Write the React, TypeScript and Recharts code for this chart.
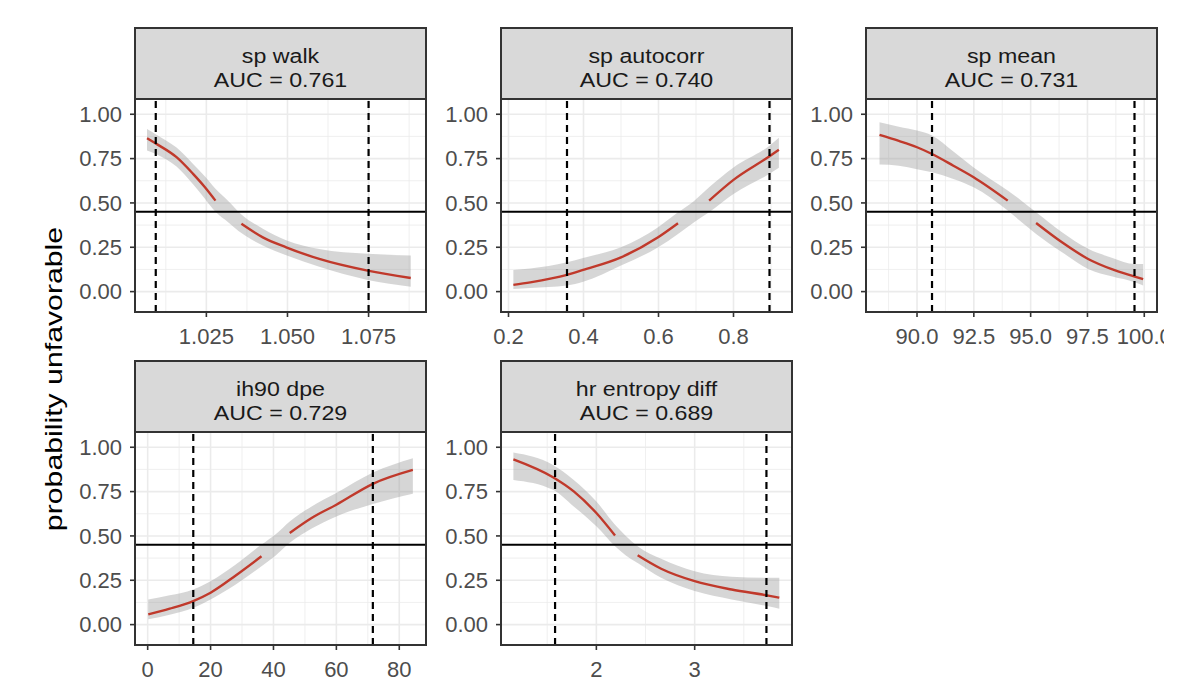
import {
  Area,
  CartesianGrid,
  ComposedChart,
  Line,
  ReferenceLine,
  XAxis,
  YAxis,
} from "recharts";

// shared y scale
const Y_TICKS = [0, 0.25, 0.5, 0.75, 1];
const Y_MINOR = [0.125, 0.375, 0.625, 0.875];
const Y_DOMAIN: [number, number] = [-0.115, 1.086];
const CUTOFF = 0.45;

// sp walk
const walkX = [1.0067, 1.0096, 1.0158, 1.0209, 1.0245, 1.0278, 1.0318, 1.0358, 1.0424, 1.0496, 1.0598, 1.0747, 1.088];
const walkFit = [0.865, 0.833, 0.758, 0.664, 0.59, 0.513, null, 0.382, 0.306, 0.25, 0.184, 0.118, 0.077];
const walkLo = [0.795, 0.775, 0.705, 0.605, 0.525, 0.45, 0.39, 0.33, 0.26, 0.205, 0.14, 0.066, 0.028];
const walkHi = [0.917, 0.885, 0.812, 0.72, 0.65, 0.58, 0.51, 0.435, 0.355, 0.29, 0.24, 0.213, 0.203];
const walkCuts = [1.0094, 1.075];
const walkTicks = [1.025, 1.05, 1.075];
const walkMinor = [1.0125, 1.0375, 1.0625, 1.0875];

// sp autocorr
const acX = [0.213, 0.258, 0.356, 0.399, 0.5, 0.599, 0.652, 0.694, 0.735, 0.8, 0.896, 0.921];
const acFit = [0.038, 0.052, 0.094, 0.122, 0.193, 0.306, 0.385, null, 0.513, 0.63, 0.763, 0.8];
const acLo = [0.015, 0.02, 0.034, 0.055, 0.147, 0.25, 0.325, 0.39, 0.447, 0.55, 0.664, 0.698];
const acHi = [0.122, 0.13, 0.165, 0.19, 0.25, 0.363, 0.447, 0.51, 0.588, 0.7, 0.823, 0.867];
const acCuts = [0.356, 0.896];
const acTicks = [0.2, 0.4, 0.6, 0.8];
const acMinor = [0.3, 0.5, 0.7, 0.9];

// sp mean
const meanX = [88.35, 89.2, 90.0, 90.66, 91.6, 92.49, 93.99, 94.62, 95.24, 96.38, 97.53, 98.6, 99.58, 99.95];
const meanFit = [0.884, 0.85, 0.814, 0.776, 0.71, 0.645, 0.513, null, 0.387, 0.278, 0.184, 0.125, 0.085, 0.07];
const meanLo = [0.716, 0.71, 0.69, 0.673, 0.635, 0.588, 0.457, 0.39, 0.325, 0.222, 0.128, 0.085, 0.053, 0.034];
const meanHi = [0.955, 0.93, 0.908, 0.88, 0.79, 0.7, 0.57, 0.51, 0.447, 0.335, 0.241, 0.19, 0.156, 0.156];
const meanCuts = [90.66, 99.57];
const meanTicks = [90, 92.5, 95, 97.5, 100];
const meanMinor = [88.75, 91.25, 93.75, 96.25, 98.75];

// ih90 dpe
const dpeX = [0.19, 7.0, 14.48, 20.0, 28.0, 36.19, 40.7, 45.17, 52.0, 60.0, 71.62, 84.32];
const dpeFit = [0.058, 0.09, 0.133, 0.18, 0.277, 0.385, null, 0.517, 0.6, 0.676, 0.794, 0.872];
const dpeLo = [0.03, 0.055, 0.095, 0.142, 0.226, 0.329, 0.39, 0.461, 0.54, 0.61, 0.68, 0.738];
const dpeHi = [0.142, 0.165, 0.198, 0.245, 0.339, 0.451, 0.51, 0.582, 0.665, 0.742, 0.857, 0.938];
const dpeCuts = [14.5, 71.6];
const dpeTicks = [0, 20, 40, 60, 80];
const dpeMinor = [10, 30, 50, 70];

// hr entropy diff
const entX = [1.156, 1.559, 1.77, 2.0, 2.19, 2.3, 2.42, 2.659, 3.0, 3.376, 3.735, 3.861];
const entFit = [0.932, 0.831, 0.751, 0.629, 0.502, null, 0.391, 0.315, 0.245, 0.198, 0.165, 0.152];
const entLo = [0.816, 0.76, 0.666, 0.554, 0.442, 0.39, 0.348, 0.264, 0.189, 0.142, 0.105, 0.09];
const entHi = [0.97, 0.9, 0.816, 0.694, 0.563, 0.5, 0.442, 0.371, 0.301, 0.27, 0.264, 0.264];
const entCuts = [1.58, 3.73];
const entTicks = [2, 3];
const entMinor = [1.5, 2.5, 3.5];

const PANELS = [
  { name: "sp walk", auc: "0.761", x: walkX, fit: walkFit, lo: walkLo, hi: walkHi, cuts: walkCuts, ticks: walkTicks, minor: walkMinor, domain: [1.003, 1.0927], digits: 3 },
  { name: "sp autocorr", auc: "0.740", x: acX, fit: acFit, lo: acLo, hi: acHi, cuts: acCuts, ticks: acTicks, minor: acMinor, domain: [0.18, 0.956], digits: 1 },
  { name: "sp mean", auc: "0.731", x: meanX, fit: meanFit, lo: meanLo, hi: meanHi, cuts: meanCuts, ticks: meanTicks, minor: meanMinor, domain: [87.755, 100.56], digits: 1 },
  { name: "ih90 dpe", auc: "0.729", x: dpeX, fit: dpeFit, lo: dpeLo, hi: dpeHi, cuts: dpeCuts, ticks: dpeTicks, minor: dpeMinor, domain: [-4.03, 88.5], digits: 0 },
  { name: "hr entropy diff", auc: "0.689", x: entX, fit: entFit, lo: entLo, hi: entHi, cuts: entCuts, ticks: entTicks, minor: entMinor, domain: [1.03, 3.99], digits: 0 },
];

// layout
const COL_LEFT = [135, 501, 866];
const ROW_TOP = [99, 432];
const PLOT_W = 291;
const PLOT_H = 213;
const STRIP_H = 71;
const AXIS_W = 75;
const AXIS_H = 40;
const FONT = '"Liberation Sans", Arial, Helvetica, sans-serif';
const EDGE = "#333333";

type PanelDef = (typeof PANELS)[number];

function Panel({ p, left, top, padRight }: { p: PanelDef; left: number; top: number; padRight: number }) {
  const rows = p.x.map((x, i) => ({ x, fit: p.fit[i], band: [p.lo[i], p.hi[i]] }));
  return (
    <>
      <div
        style={{
          position: "absolute",
          left: left - 1,
          top: top - STRIP_H - 1,
          width: PLOT_W + 2,
          height: STRIP_H + 2,
          boxSizing: "border-box",
          border: `2px solid ${EDGE}`,
          background: "#D9D9D9",
          color: "#1A1A1A",
          fontSize: 20,
          lineHeight: "24px",
          textAlign: "center",
          paddingTop: 15,
        }}
      >
        <div style={{ transform: "scaleX(1.16)" }}>{p.name}</div>
        <div style={{ transform: "scaleX(1.16)" }}>AUC = {p.auc}</div>
      </div>
      <div style={{ position: "absolute", left: left - AXIS_W, top }}>
        <ComposedChart
          width={AXIS_W + PLOT_W + padRight}
          height={PLOT_H + AXIS_H}
          data={rows}
          margin={{ top: 0, right: padRight, bottom: 0, left: 0 }}
        >
          <CartesianGrid verticalValues={p.minor} horizontalValues={Y_MINOR} stroke="#EBEBEB" strokeWidth={0.8} />
          <CartesianGrid verticalValues={p.ticks} horizontalValues={Y_TICKS} stroke="#EBEBEB" strokeWidth={1.6} />
          <XAxis
            type="number"
            dataKey="x"
            domain={p.domain}
            allowDataOverflow
            ticks={p.ticks}
            interval={0}
            tickFormatter={(v: number) => v.toFixed(p.digits)}
            height={AXIS_H}
            axisLine={false}
            tickSize={5}
            tickMargin={11}
            tickLine={{ stroke: EDGE, strokeWidth: 1.6 }}
            tick={{ fill: "#4D4D4D", fontSize: 22 }}
          />
          <YAxis
            type="number"
            domain={Y_DOMAIN}
            allowDataOverflow
            ticks={Y_TICKS}
            interval={0}
            tickFormatter={(v: number) => v.toFixed(2)}
            width={AXIS_W}
            axisLine={false}
            tickSize={5}
            tickMargin={8}
            tickLine={{ stroke: EDGE, strokeWidth: 1.6 }}
            tick={{ fill: "#4D4D4D", fontSize: 22 }}
          />
          <Area
            dataKey="band"
            type="monotone"
            fill="#999999"
            fillOpacity={0.4}
            stroke="none"
            activeDot={false}
            isAnimationActive={false}
          />
          <Line
            dataKey="fit"
            type="monotone"
            stroke="#C0392B"
            strokeWidth={2.4}
            dot={false}
            activeDot={false}
            connectNulls={false}
            isAnimationActive={false}
          />
          <ReferenceLine y={CUTOFF} stroke="#000000" strokeWidth={2} />
          {p.cuts.map((c) => (
            <ReferenceLine key={c} x={c} stroke="#000000" strokeWidth={2.2} strokeDasharray="7 5" />
          ))}
        </ComposedChart>
      </div>
      <div
        style={{
          position: "absolute",
          left: left - 1,
          top: top - 1,
          width: PLOT_W + 2,
          height: PLOT_H + 2,
          boxSizing: "border-box",
          border: `2px solid ${EDGE}`,
          pointerEvents: "none",
        }}
      />
    </>
  );
}

export default function App() {
  return (
    <div
      style={{
        position: "absolute",
        left: 0,
        top: 0,
        width: 1200,
        height: 694,
        background: "#FFFFFF",
        fontFamily: FONT,
        overflow: "hidden",
      }}
    >
      {PANELS.map((p, i) => (
        <Panel
          key={p.name}
          p={p}
          left={COL_LEFT[i % 3]}
          top={ROW_TOP[Math.floor(i / 3)]}
          padRight={i === 2 ? 7 : 0}
        />
      ))}
      <div
        style={{
          position: "absolute",
          left: 54,
          top: 379,
          transform: "translate(-50%, -50%) rotate(-90deg) scaleX(1.26)",
          whiteSpace: "nowrap",
          fontSize: 24,
          lineHeight: 1,
          color: "#000000",
        }}
      >
        probability unfavorable
      </div>
    </div>
  );
}
